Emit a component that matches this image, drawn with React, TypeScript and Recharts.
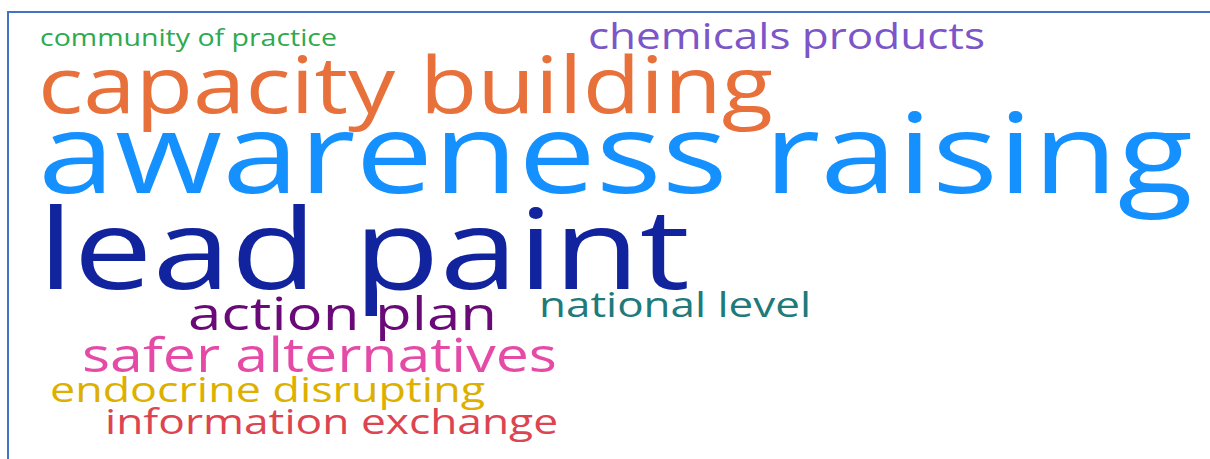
import { ScatterChart, Scatter, XAxis, YAxis } from "recharts";

// words of the cloud, with their weight (frequency score)
const words = [
  "community of practice",
  "chemicals products",
  "capacity building",
  "awareness raising",
  "lead paint",
  "national level",
  "action plan",
  "safer alternatives",
  "endocrine disrupting",
  "information exchange",
];
const weights = [23, 36, 78, 112, 112, 35, 45, 47, 35, 35];
// layout of the cloud: left edge and baseline in page units
const wordX = [40, 588, 38, 38, 38, 539, 188, 82, 50, 105];
const wordY = [46, 49, 113, 193, 289, 317, 330, 372, 402, 434];
const spans = [297, 397, 735, 1155, 652, 272, 309, 475, 435, 453];
const colors = [
  "#2DAA4F",
  "#7C55C9",
  "#E8703A",
  "#1490FF",
  "#12239E",
  "#217A7A",
  "#6A0A78",
  "#E54BA6",
  "#DDB000",
  "#DC4550",
];

const W = 1210;
const H = 459;

const data = words.map((w, i) => ({
  word: w,
  x: wordX[i],
  y: wordY[i],
  weight: weights[i],
  span: spans[i],
  color: colors[i],
}));

function Word(props: any) {
  const { cx, cy, payload } = props;
  return (
    <text
      x={cx}
      y={cy}
      fill={payload.color}
      fontSize={payload.weight}
      fontFamily="'Open Sans', 'Noto Sans', sans-serif"
      textLength={payload.span}
      lengthAdjust="spacingAndGlyphs"
    >
      {payload.word}
    </text>
  );
}

export default function App() {
  return (
    <div
      style={{
        position: "fixed",
        left: 0,
        top: 0,
        width: W,
        height: H,
        background: "#fff",
        overflow: "hidden",
      }}
    >
      <div
        style={{
          position: "absolute",
          left: 7,
          top: 11,
          width: W,
          height: H,
          borderTop: "2px solid #4472C4",
          borderLeft: "2px solid #4472C4",
        }}
      />
      <div style={{ position: "absolute", left: 0, top: 0 }}>
        <ScatterChart
          width={W}
          height={H}
          margin={{ top: 0, right: 0, bottom: 0, left: 0 }}
        >
          <XAxis type="number" dataKey="x" domain={[0, W]} hide />
          <YAxis type="number" dataKey="y" domain={[0, H]} reversed hide />
          <Scatter data={data} shape={Word} isAnimationActive={false} />
        </ScatterChart>
      </div>
    </div>
  );
}
